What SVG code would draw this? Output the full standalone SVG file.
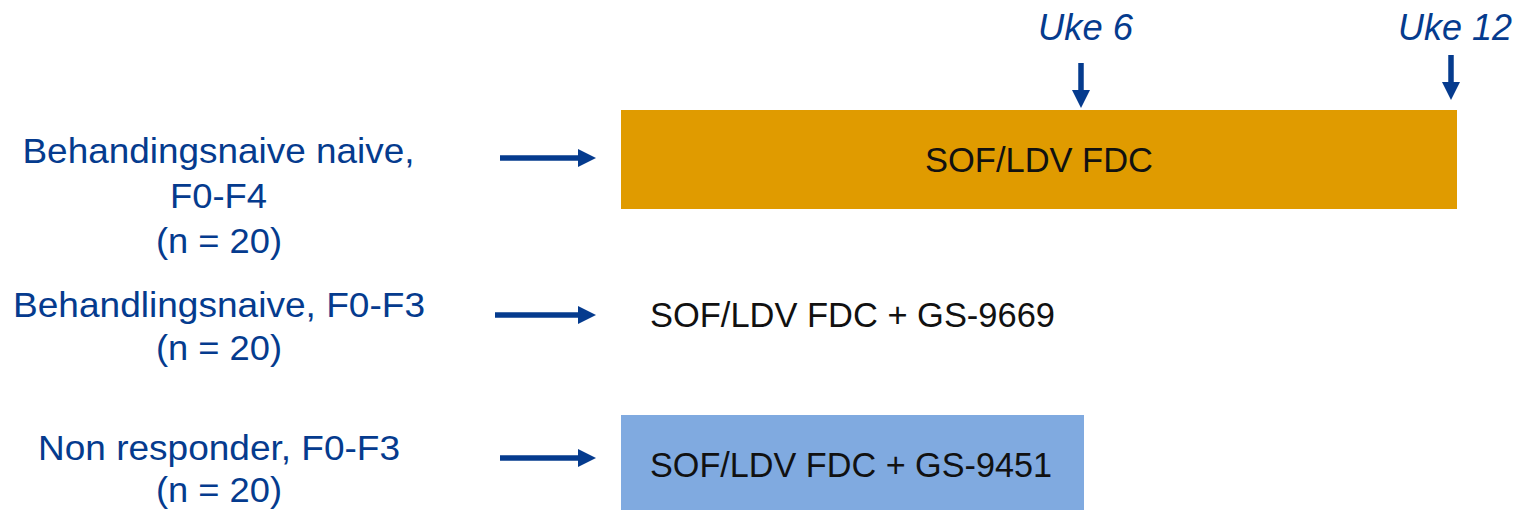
<svg xmlns="http://www.w3.org/2000/svg" width="1519" height="510" viewBox="0 0 1519 510">
<style>
.lbl{font-family:"Liberation Sans",Arial,sans-serif;font-size:35px;fill:#053B8E;text-anchor:middle}
.uke{font-family:"Liberation Sans",Arial,sans-serif;font-size:37px;font-style:italic;fill:#053B8E;text-anchor:middle}
.box{font-family:"Liberation Sans",Arial,sans-serif;font-size:35px;fill:#111111;text-anchor:middle}
.arr{stroke:#053B8E;stroke-width:5.5;fill:none}
.head{fill:#053B8E}
</style>
<g id="uke6"><text class="uke" x="1085.5" y="40" textLength="95" lengthAdjust="spacingAndGlyphs">Uke 6</text></g>
<g id="uke12"><text class="uke" x="1455" y="40" textLength="114" lengthAdjust="spacingAndGlyphs">Uke 12</text></g>
<g id="arm1"><rect x="621" y="110" width="836" height="99" fill="#E09B00"/><text class="box" x="1039" y="172" textLength="228" lengthAdjust="spacingAndGlyphs">SOF/LDV FDC</text></g>
<g id="arm2"><text class="box" x="852.5" y="327" textLength="405" lengthAdjust="spacingAndGlyphs">SOF/LDV FDC + GS-9669</text></g>
<g id="arm3"><rect x="621" y="415" width="463" height="95" fill="#80AAE0"/><text class="box" x="851" y="477" textLength="402" lengthAdjust="spacingAndGlyphs">SOF/LDV FDC + GS-9451</text></g>
<g id="grp1">
<text class="lbl" x="218.5" y="163" textLength="392" lengthAdjust="spacingAndGlyphs">Behandingsnaive naive,</text>
<text class="lbl" x="218.5" y="208" textLength="97" lengthAdjust="spacingAndGlyphs">F0-F4</text>
<text class="lbl" x="219" y="253" textLength="126" lengthAdjust="spacingAndGlyphs">(n = 20)</text>
</g>
<g id="grp2">
<text class="lbl" x="219" y="317" textLength="412" lengthAdjust="spacingAndGlyphs">Behandlingsnaive, F0-F3</text>
<text class="lbl" x="219" y="360" textLength="126" lengthAdjust="spacingAndGlyphs">(n = 20)</text>
</g>
<g id="grp3">
<text class="lbl" x="219" y="460" textLength="362" lengthAdjust="spacingAndGlyphs">Non responder, F0-F3</text>
<text class="lbl" x="219" y="502" textLength="126" lengthAdjust="spacingAndGlyphs">(n = 20)</text>
</g>
<g id="connectors">
<line class="arr" x1="500" y1="158" x2="580" y2="158"/><path class="head" d="M578,149 L596,158 L578,167 Z"/>
<line class="arr" x1="495" y1="315" x2="580" y2="315"/><path class="head" d="M578,306 L596,315 L578,324 Z"/>
<line class="arr" x1="500" y1="458" x2="580" y2="458"/><path class="head" d="M578,449 L596,458 L578,467 Z"/>
<line class="arr" x1="1081" y1="63" x2="1081" y2="92"/><path class="head" d="M1072,90 L1081,108 L1090,90 Z"/>
<line class="arr" x1="1451" y1="55" x2="1451" y2="84"/><path class="head" d="M1442,82 L1451,100 L1460,82 Z"/>
</g>
</svg>
